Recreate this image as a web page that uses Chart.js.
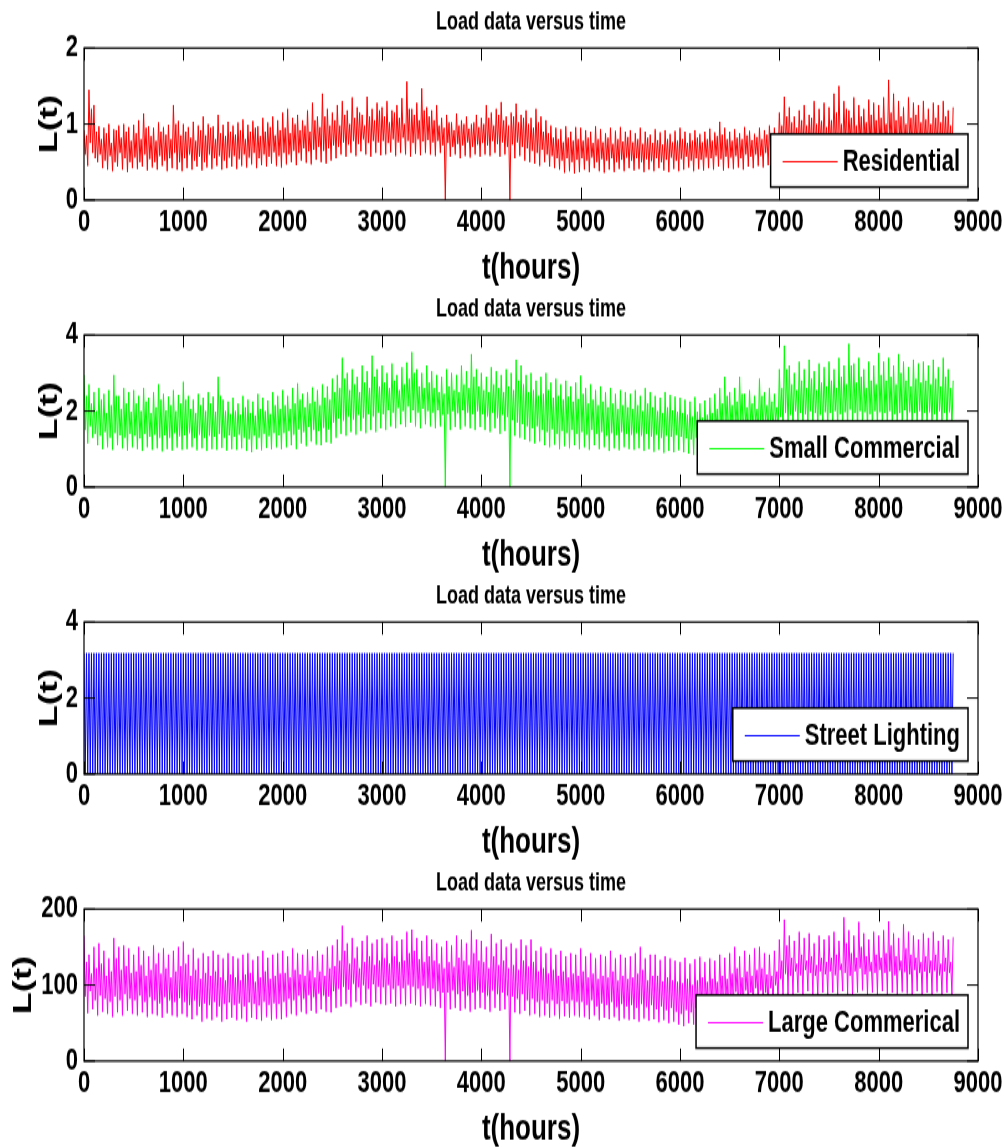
<!DOCTYPE html>
<html>
<head>
<meta charset="utf-8">
<title>Load data versus time</title>
<script src="https://cdn.jsdelivr.net/npm/chart.js@4.4.1/dist/chart.umd.min.js"></script>
<style>
  html, body { margin: 0; padding: 0; background: #fff; }
</style>
</head>
<body>
<!-- each plot is drawn at 1006x205 and stretched to 287px tall -->
<canvas id="residential" width="1006" height="205" style="display:block;width:1006px;height:287px"></canvas>
<canvas id="smallCommercial" width="1006" height="205" style="display:block;width:1006px;height:287px"></canvas>
<canvas id="streetLighting" width="1006" height="205" style="display:block;width:1006px;height:287px"></canvas>
<canvas id="largeCommercial" width="1006" height="205" style="display:block;width:1006px;height:287px"></canvas>
<script>
// hourly load summarised per 50 h window:
// main peak, short dip, second peak, deep trough
const SAMPLE_HOURS = 50;
const xTicks = [0, 1000, 2000, 3000, 4000, 5000, 6000, 7000, 8000, 9000];

const residentialPeaks = [
  0.92, 1.45, 1.25, 0.97, 0.95, 1.00, 0.93, 0.98, 1.00, 0.96,
  0.99, 1.05, 1.14, 0.97, 0.95, 1.02, 0.96, 0.99, 1.25, 1.04,
  1.00, 0.96, 1.03, 0.98, 1.10, 1.00, 0.97, 1.12, 0.99, 1.03,
  0.98, 1.02, 1.06, 0.99, 1.04, 0.97, 1.08, 1.02, 1.10, 1.05,
  1.15, 1.20, 1.08, 1.12, 1.05, 1.18, 1.28, 1.10, 1.40, 1.20,
  1.15, 1.25, 1.30, 1.18, 1.35, 1.22, 1.12, 1.36, 1.20, 1.28,
  1.22, 1.30, 1.18, 1.25, 1.34, 1.56, 1.20, 1.28, 1.47, 1.22,
  1.18, 1.25, 1.08, 1.12, 1.02, 1.14, 1.05, 1.10, 1.00, 1.12,
  1.08, 1.25, 1.15, 1.20, 1.29, 1.10, 1.15, 1.27, 1.12, 1.18,
  1.08, 1.20, 1.10, 1.05, 0.98, 0.95, 0.93, 0.97, 0.90, 0.96,
  0.95, 0.92, 0.90, 0.97, 0.93, 0.88, 0.95, 0.91, 0.96, 0.90,
  0.92, 0.88, 0.95, 0.90, 0.86, 0.93, 0.89, 0.92, 0.87, 0.91,
  0.95, 0.90, 0.88, 0.92, 0.87, 0.90, 0.94, 0.89, 1.03, 0.95,
  0.90, 0.93, 0.88, 0.96, 0.91, 0.87, 0.95, 0.92, 0.98, 0.95,
  1.15, 1.36, 1.22, 1.10, 1.18, 1.25, 1.12, 1.30, 1.20, 1.28,
  1.22, 1.40, 1.50, 1.30, 1.18, 1.35, 1.25, 1.20, 1.32, 1.28,
  1.25, 1.35, 1.58, 1.40, 1.30, 1.22, 1.35, 1.28, 1.25, 1.30,
  1.20, 1.28, 1.25, 1.30, 1.18, 1.22
];
const residentialDips = [
  0.60, 0.75, 0.55, 0.60, 0.52, 0.58, 0.50, 0.62, 0.55, 0.50,
  0.56, 0.50, 0.60, 0.54, 0.50, 0.58, 0.52, 0.55, 0.62, 0.50,
  0.55, 0.60, 0.52, 0.57, 0.50, 0.60, 0.55, 0.58, 0.52, 0.56,
  0.58, 0.54, 0.60, 0.56, 0.62, 0.55, 0.60, 0.57, 0.63, 0.58,
  0.62, 0.60, 0.65, 0.62, 0.68, 0.64, 0.66, 0.70, 0.65, 0.68,
  0.72, 0.70, 0.76, 0.73, 0.78, 0.74, 0.80, 0.75, 0.78, 0.76,
  0.78, 0.75, 0.80, 0.76, 0.82, 0.78, 0.75, 0.80, 0.77, 0.79,
  0.76, 0.78, 0.72, 0.75, 0.70, 0.74, 0.72, 0.76, 0.70, 0.73,
  0.75, 0.72, 0.78, 0.74, 0.76, 0.70, 0.73, 0.76, 0.70, 0.68,
  0.65, 0.62, 0.66, 0.60, 0.58, 0.55, 0.52, 0.55, 0.50, 0.53,
  0.55, 0.52, 0.56, 0.50, 0.54, 0.52, 0.55, 0.50, 0.53, 0.56,
  0.52, 0.55, 0.50, 0.54, 0.51, 0.55, 0.50, 0.53, 0.56, 0.52,
  0.54, 0.57, 0.52, 0.55, 0.53, 0.56, 0.55, 0.58, 0.54, 0.57,
  0.56, 0.58, 0.55, 0.60, 0.57, 0.60, 0.58, 0.62, 0.60, 0.64,
  0.70, 0.75, 0.68, 0.74, 0.72, 0.76, 0.70, 0.74, 0.78, 0.72,
  0.75, 0.70, 0.76, 0.73, 0.78, 0.72, 0.76, 0.78, 0.72, 0.75,
  0.74, 0.78, 0.75, 0.72, 0.76, 0.74, 0.78, 0.75, 0.72, 0.76,
  0.74, 0.77, 0.72, 0.75, 0.72
];
const residentialPeaks2 = [
  0.85, 1.20, 0.90, 0.80, 0.88, 0.75, 0.92, 0.82, 0.90, 0.78,
  0.88, 0.80, 0.95, 0.84, 0.78, 0.90, 0.86, 0.80, 1.00, 0.85,
  0.90, 0.82, 0.78, 0.92, 0.85, 0.95, 0.80, 0.88, 0.84, 0.90,
  0.86, 0.92, 0.80, 0.90, 0.95, 0.84, 0.90, 0.96, 0.85, 0.92,
  0.95, 0.88, 1.00, 0.92, 0.98, 0.90, 1.05, 0.96, 1.10, 0.98,
  1.05, 0.98, 1.12, 1.00, 1.08, 1.15, 0.98, 1.10, 1.05, 1.18,
  1.10, 1.02, 1.15, 1.08, 1.00, 1.20, 1.12, 1.05, 1.18, 1.10,
  1.05, 0.98, 0.95, 1.02, 0.92, 0.98, 1.00, 0.94, 1.02, 0.96,
  1.00, 1.08, 0.98, 1.12, 1.05, 0.98, 1.10, 1.02, 1.08, 1.00,
  0.95, 1.02, 0.90, 0.88, 0.82, 0.80, 0.76, 0.82, 0.78, 0.80,
  0.78, 0.82, 0.75, 0.80, 0.76, 0.82, 0.74, 0.80, 0.77, 0.83,
  0.76, 0.80, 0.74, 0.82, 0.75, 0.79, 0.73, 0.80, 0.76, 0.78,
  0.80, 0.75, 0.78, 0.82, 0.76, 0.80, 0.78, 0.84, 0.86, 0.80,
  0.78, 0.82, 0.80, 0.85, 0.79, 0.83, 0.80, 0.86, 0.82, 0.88,
  0.98, 1.10, 1.02, 0.95, 1.05, 0.98, 1.08, 1.00, 1.04, 0.96,
  1.05, 1.15, 1.00, 1.20, 1.08, 0.98, 1.10, 1.02, 1.12, 1.05,
  1.08, 1.00, 1.15, 1.05, 1.10, 1.00, 1.08, 1.12, 1.02, 1.06,
  1.00, 1.08, 1.02, 1.10, 0.98
];
const residentialTroughs = [
  0.45, 0.62, 0.50, 0.42, 0.40, 0.38, 0.44, 0.40, 0.37, 0.42,
  0.41, 0.44, 0.39, 0.43, 0.40, 0.45, 0.38, 0.42, 0.40, 0.38,
  0.42, 0.40, 0.44, 0.39, 0.43, 0.41, 0.45, 0.40, 0.42, 0.44,
  0.41, 0.45, 0.43, 0.47, 0.42, 0.46, 0.44, 0.48, 0.45, 0.43,
  0.47, 0.50, 0.46, 0.52, 0.49, 0.47, 0.53, 0.50, 0.48, 0.52,
  0.55, 0.60, 0.57, 0.62, 0.58, 0.64, 0.60, 0.57, 0.62, 0.59,
  0.60, 0.63, 0.58, 0.62, 0.60, 0.57, 0.61, 0.59, 0.62, 0.60,
  0.58, 0.62, 0.00, 0.57, 0.60, 0.55, 0.58, 0.56, 0.60, 0.57,
  0.60, 0.58, 0.62, 0.57, 0.60, 0.00, 0.55, 0.58, 0.52, 0.50,
  0.48, 0.45, 0.50, 0.44, 0.42, 0.40, 0.36, 0.38, 0.35, 0.37,
  0.40, 0.37, 0.42, 0.38, 0.36, 0.40, 0.37, 0.41, 0.38, 0.42,
  0.39, 0.41, 0.37, 0.40, 0.38, 0.42, 0.39, 0.37, 0.41, 0.38,
  0.40, 0.43, 0.38, 0.41, 0.39, 0.42, 0.40, 0.44, 0.39, 0.42,
  0.41, 0.43, 0.40, 0.44, 0.42, 0.45, 0.43, 0.46, 0.44, 0.48,
  0.52, 0.55, 0.50, 0.56, 0.53, 0.55, 0.51, 0.54, 0.57, 0.53,
  0.55, 0.52, 0.56, 0.54, 0.58, 0.53, 0.55, 0.57, 0.52, 0.56,
  0.54, 0.57, 0.55, 0.52, 0.56, 0.54, 0.58, 0.55, 0.53, 0.56,
  0.54, 0.57, 0.53, 0.55, 0.52
];

const smallCommercialPeaks = [
  2.95, 2.70, 2.50, 2.60, 2.45, 2.55, 2.95, 2.40, 2.60, 2.50,
  2.55, 2.40, 2.60, 2.35, 2.50, 2.70, 2.45, 2.38, 2.55, 2.42,
  2.77, 2.40, 2.30, 2.45, 2.35, 2.50, 2.38, 2.90, 2.30, 2.25,
  2.35, 2.20, 2.40, 2.30, 2.25, 2.45, 2.35, 2.28, 2.50, 2.40,
  2.55, 2.40, 2.60, 2.73, 2.45, 2.50, 2.62, 2.55, 2.70, 2.65,
  2.85, 2.95, 3.40, 3.00, 3.10, 2.90, 3.20, 3.05, 3.46, 3.10,
  3.20, 3.00, 3.25, 2.95, 3.15, 3.28, 3.55, 3.10, 3.00, 3.20,
  3.05, 2.95, 2.90, 3.10, 3.00, 2.95, 3.20, 3.05, 3.50, 3.10,
  3.00, 2.90, 3.15, 3.05, 2.95, 3.10, 3.00, 3.35, 3.20, 2.95,
  3.00, 2.80, 2.90, 3.00, 2.75, 2.85, 2.70, 2.80, 2.65, 2.75,
  2.93, 2.60, 2.70, 2.55, 2.65, 2.50, 2.60, 2.45, 2.55, 2.50,
  2.45, 2.55, 2.40, 2.60, 2.50, 2.40, 2.35, 2.50, 2.42, 2.38,
  2.35, 2.30, 2.25, 2.37, 2.20, 2.28, 2.35, 2.45, 2.60, 2.90,
  2.50, 2.60, 2.90, 2.45, 2.55, 2.40, 2.85, 2.50, 2.60, 2.45,
  3.10, 3.72, 3.20, 3.00, 3.30, 3.10, 3.35, 3.05, 3.25, 3.15,
  3.30, 3.10, 3.40, 3.20, 3.77, 3.25, 3.40, 3.10, 3.30, 3.20,
  3.52, 3.30, 3.40, 3.20, 3.50, 3.30, 3.15, 3.35, 3.25, 3.30,
  3.20, 3.35, 3.15, 3.40, 3.10, 2.80
];
const smallCommercialDips = [
  1.50, 1.60, 1.40, 1.35, 1.45, 1.30, 1.42, 1.36, 1.30, 1.40,
  1.35, 1.28, 1.40, 1.32, 1.38, 1.30, 1.36, 1.30, 1.42, 1.34,
  1.36, 1.42, 1.30, 1.38, 1.30, 1.35, 1.32, 1.40, 1.30, 1.36,
  1.32, 1.38, 1.30, 1.26, 1.35, 1.30, 1.40, 1.34, 1.42, 1.36,
  1.42, 1.48, 1.38, 1.52, 1.45, 1.58, 1.50, 1.48, 1.56, 1.52,
  1.70, 1.80, 1.75, 1.86, 1.78, 1.90, 1.82, 1.92, 1.86, 1.96,
  1.92, 2.02, 1.96, 2.08, 2.00, 2.12, 2.02, 1.96, 2.06, 2.00,
  1.96, 2.02, 1.90, 1.92, 2.00, 1.94, 2.02, 1.96, 1.92, 2.00,
  1.92, 1.86, 1.96, 1.82, 1.90, 1.85, 1.76, 1.70, 1.66, 1.60,
  1.55, 1.60, 1.50, 1.45, 1.52, 1.40, 1.48, 1.42, 1.50, 1.40,
  1.45, 1.38, 1.50, 1.40, 1.45, 1.35, 1.42, 1.37, 1.45, 1.40,
  1.38, 1.42, 1.35, 1.40, 1.33, 1.38, 1.30, 1.35, 1.32, 1.37,
  1.32, 1.28, 1.25, 1.30, 1.35, 1.40, 1.45, 1.50, 1.55, 1.60,
  1.60, 1.65, 1.70, 1.62, 1.68, 1.70, 1.65, 1.72, 1.70, 1.75,
  1.85, 1.95, 1.90, 2.00, 1.95, 1.92, 2.00, 1.95, 1.90, 1.97,
  1.95, 2.00, 1.92, 1.97, 2.04, 1.95, 2.00, 1.97, 1.92, 2.00,
  1.97, 1.95, 2.00, 1.92, 1.95, 2.02, 1.97, 1.95, 2.00, 1.95,
  1.97, 1.92, 2.00, 1.95, 1.97
];
const smallCommercialPeaks2 = [
  2.40, 2.20, 2.00, 2.30, 1.95, 2.15, 2.40, 2.05, 2.20, 1.98,
  2.20, 2.00, 2.25, 1.95, 2.10, 2.30, 2.02, 2.15, 2.00, 2.20,
  2.30, 2.05, 1.95, 2.15, 2.00, 2.20, 1.98, 2.40, 2.00, 1.92,
  2.00, 1.90, 2.10, 1.95, 1.88, 2.05, 2.00, 1.92, 2.15, 2.05,
  2.15, 2.05, 2.20, 2.30, 2.10, 2.20, 2.25, 2.15, 2.35, 2.30,
  2.50, 2.60, 2.85, 2.55, 2.70, 2.50, 2.75, 2.60, 2.90, 2.65,
  2.75, 2.60, 2.80, 2.55, 2.70, 2.85, 3.00, 2.65, 2.60, 2.75,
  2.60, 2.50, 2.45, 2.65, 2.55, 2.50, 2.70, 2.60, 2.90, 2.65,
  2.55, 2.50, 2.70, 2.60, 2.50, 2.65, 2.55, 2.80, 2.70, 2.50,
  2.55, 2.40, 2.45, 2.55, 2.35, 2.40, 2.30, 2.38, 2.25, 2.32,
  2.45, 2.20, 2.30, 2.15, 2.25, 2.10, 2.20, 2.05, 2.15, 2.10,
  2.05, 2.15, 2.00, 2.20, 2.10, 2.00, 1.95, 2.10, 2.02, 1.98,
  1.95, 1.90, 1.85, 1.98, 1.82, 1.90, 1.95, 2.05, 2.20, 2.40,
  2.15, 2.25, 2.45, 2.10, 2.20, 2.05, 2.40, 2.15, 2.25, 2.10,
  2.60, 3.10, 2.70, 2.55, 2.80, 2.60, 2.85, 2.55, 2.75, 2.65,
  2.80, 2.60, 2.90, 2.70, 3.20, 2.75, 2.90, 2.60, 2.80, 2.70,
  2.95, 2.80, 2.90, 2.70, 3.00, 2.80, 2.65, 2.85, 2.75, 2.80,
  2.70, 2.85, 2.65, 2.90, 2.60
];
const smallCommercialTroughs = [
  1.15, 1.30, 1.10, 1.00, 1.05, 0.98, 1.10, 1.02, 0.96, 1.05,
  1.00, 0.95, 1.05, 0.98, 1.02, 0.94, 1.00, 0.96, 1.04, 0.98,
  1.00, 1.05, 0.97, 1.02, 0.95, 1.00, 0.98, 1.03, 0.96, 1.00,
  0.98, 1.02, 0.95, 0.92, 1.00, 0.97, 1.03, 0.99, 1.05, 1.00,
  1.05, 1.10, 1.00, 1.15, 1.08, 1.20, 1.12, 1.10, 1.18, 1.15,
  1.30, 1.40, 1.35, 1.45, 1.38, 1.48, 1.42, 1.50, 1.45, 1.55,
  1.50, 1.60, 1.55, 1.65, 1.58, 1.70, 1.60, 1.55, 1.65, 1.60,
  1.55, 1.60, 0.00, 1.50, 1.58, 1.52, 1.60, 1.55, 1.50, 1.58,
  1.50, 1.45, 1.55, 1.40, 1.48, 0.00, 1.35, 1.30, 1.25, 1.20,
  1.15, 1.20, 1.10, 1.05, 1.12, 1.00, 1.08, 1.02, 1.10, 1.00,
  1.05, 0.98, 1.10, 1.00, 1.05, 0.95, 1.02, 0.97, 1.05, 1.00,
  0.98, 1.02, 0.95, 1.00, 0.93, 0.98, 0.90, 0.95, 0.92, 0.97,
  0.92, 0.88, 0.85, 0.90, 0.95, 1.00, 1.05, 1.10, 1.15, 1.20,
  1.20, 1.25, 1.30, 1.22, 1.28, 1.30, 1.25, 1.32, 1.30, 1.35,
  1.40, 1.50, 1.45, 1.55, 1.50, 1.48, 1.55, 1.50, 1.45, 1.52,
  1.50, 1.55, 1.48, 1.52, 1.58, 1.50, 1.55, 1.52, 1.48, 1.55,
  1.52, 1.50, 1.55, 1.48, 1.50, 1.56, 1.52, 1.50, 1.55, 1.50,
  1.52, 1.48, 1.55, 1.50, 1.52
];

// street lights: full rating while on, zero while off
const streetLightingPeaks = [
  3.18, 3.18, 3.18, 3.18, 3.18, 3.18, 3.18, 3.18, 3.18, 3.18, 3.18, 3.18, 3.18, 3.18, 3.18, 3.18, 3.18, 3.18, 3.18, 3.18, 3.18, 3.18,
  3.18, 3.18, 3.18, 3.18, 3.18, 3.18, 3.18, 3.18, 3.18, 3.18, 3.18, 3.18, 3.18, 3.18, 3.18, 3.18, 3.18, 3.18, 3.18, 3.18, 3.18, 3.18,
  3.18, 3.18, 3.18, 3.18, 3.18, 3.18, 3.18, 3.18, 3.18, 3.18, 3.18, 3.18, 3.18, 3.18, 3.18, 3.18, 3.18, 3.18, 3.18, 3.18, 3.18, 3.18,
  3.18, 3.18, 3.18, 3.18, 3.18, 3.18, 3.18, 3.18, 3.18, 3.18, 3.18, 3.18, 3.18, 3.18, 3.18, 3.18, 3.18, 3.18, 3.18, 3.18, 3.18, 3.18,
  3.18, 3.18, 3.18, 3.18, 3.18, 3.18, 3.18, 3.18, 3.18, 3.18, 3.18, 3.18, 3.18, 3.18, 3.18, 3.18, 3.18, 3.18, 3.18, 3.18, 3.18, 3.18,
  3.18, 3.18, 3.18, 3.18, 3.18, 3.18, 3.18, 3.18, 3.18, 3.18, 3.18, 3.18, 3.18, 3.18, 3.18, 3.18, 3.18, 3.18, 3.18, 3.18, 3.18, 3.18,
  3.18, 3.18, 3.18, 3.18, 3.18, 3.18, 3.18, 3.18, 3.18, 3.18, 3.18, 3.18, 3.18, 3.18, 3.18, 3.18, 3.18, 3.18, 3.18, 3.18, 3.18, 3.18,
  3.18, 3.18, 3.18, 3.18, 3.18, 3.18, 3.18, 3.18, 3.18, 3.18, 3.18, 3.18, 3.18, 3.18, 3.18, 3.18, 3.18, 3.18, 3.18, 3.18, 3.18, 3.18
];
const streetLightingDips = [
  0, 0, 0, 0, 0, 0, 0, 0, 0, 0, 0, 0, 0, 0, 0, 0, 0, 0, 0, 0, 0, 0, 0, 0, 0,
  0, 0, 0, 0, 0, 0, 0, 0, 0, 0, 0, 0, 0, 0, 0, 0, 0, 0, 0, 0, 0, 0, 0, 0, 0,
  0, 0, 0, 0, 0, 0, 0, 0, 0, 0, 0, 0, 0, 0, 0, 0, 0, 0, 0, 0, 0, 0, 0, 0, 0,
  0, 0, 0, 0, 0, 0, 0, 0, 0, 0, 0, 0, 0, 0, 0, 0, 0, 0, 0, 0, 0, 0, 0, 0, 0,
  0, 0, 0, 0, 0, 0, 0, 0, 0, 0, 0, 0, 0, 0, 0, 0, 0, 0, 0, 0, 0, 0, 0, 0, 0,
  0, 0, 0, 0, 0, 0, 0, 0, 0, 0, 0, 0, 0, 0, 0, 0, 0, 0, 0, 0, 0, 0, 0, 0, 0,
  0, 0, 0, 0, 0, 0, 0, 0, 0, 0, 0, 0, 0, 0, 0, 0, 0, 0, 0, 0, 0, 0, 0, 0, 0
];
const streetLightingPeaks2 = [
  3.18, 3.18, 3.18, 3.18, 3.18, 3.18, 3.18, 3.18, 3.18, 3.18, 3.18, 3.18, 3.18, 3.18, 3.18, 3.18, 3.18, 3.18, 3.18, 3.18, 3.18, 3.18, 3.18, 3.18, 3.18,
  3.18, 3.18, 3.18, 3.18, 3.18, 3.18, 3.18, 3.18, 3.18, 3.18, 3.18, 3.18, 3.18, 3.18, 3.18, 3.18, 3.18, 3.18, 3.18, 3.18, 3.18, 3.18, 3.18, 3.18, 3.18,
  3.18, 3.18, 3.18, 3.18, 3.18, 3.18, 3.18, 3.18, 3.18, 3.18, 3.18, 3.18, 3.18, 3.18, 3.18, 3.18, 3.18, 3.18, 3.18, 3.18, 3.18, 3.18, 3.18, 3.18, 3.18,
  3.18, 3.18, 3.18, 3.18, 3.18, 3.18, 3.18, 3.18, 3.18, 3.18, 3.18, 3.18, 3.18, 3.18, 3.18, 3.18, 3.18, 3.18, 3.18, 3.18, 3.18, 3.18, 3.18, 3.18, 3.18,
  3.18, 3.18, 3.18, 3.18, 3.18, 3.18, 3.18, 3.18, 3.18, 3.18, 3.18, 3.18, 3.18, 3.18, 3.18, 3.18, 3.18, 3.18, 3.18, 3.18, 3.18, 3.18, 3.18, 3.18, 3.18,
  3.18, 3.18, 3.18, 3.18, 3.18, 3.18, 3.18, 3.18, 3.18, 3.18, 3.18, 3.18, 3.18, 3.18, 3.18, 3.18, 3.18, 3.18, 3.18, 3.18, 3.18, 3.18, 3.18, 3.18, 3.18,
  3.18, 3.18, 3.18, 3.18, 3.18, 3.18, 3.18, 3.18, 3.18, 3.18, 3.18, 3.18, 3.18, 3.18, 3.18, 3.18, 3.18, 3.18, 3.18, 3.18, 3.18, 3.18, 3.18, 3.18, 3.18
];
const streetLightingTroughs = [
  0, 0, 0, 0, 0, 0, 0, 0, 0, 0, 0, 0, 0, 0, 0, 0, 0, 0, 0, 0, 0, 0, 0, 0, 0,
  0, 0, 0, 0, 0, 0, 0, 0, 0, 0, 0, 0, 0, 0, 0, 0, 0, 0, 0, 0, 0, 0, 0, 0, 0,
  0, 0, 0, 0, 0, 0, 0, 0, 0, 0, 0, 0, 0, 0, 0, 0, 0, 0, 0, 0, 0, 0, 0, 0, 0,
  0, 0, 0, 0, 0, 0, 0, 0, 0, 0, 0, 0, 0, 0, 0, 0, 0, 0, 0, 0, 0, 0, 0, 0, 0,
  0, 0, 0, 0, 0, 0, 0, 0, 0, 0, 0, 0, 0, 0, 0, 0, 0, 0, 0, 0, 0, 0, 0, 0, 0,
  0, 0, 0, 0, 0, 0, 0, 0, 0, 0, 0, 0, 0, 0, 0, 0, 0, 0, 0, 0, 0, 0, 0, 0, 0,
  0, 0, 0, 0, 0, 0, 0, 0, 0, 0, 0, 0, 0, 0, 0, 0, 0, 0, 0, 0, 0, 0, 0, 0, 0
];

const largeCommercialPeaks = [
  165, 140, 150, 155, 145, 135, 162, 150, 152, 148,
  140, 150, 145, 138, 152, 142, 148, 140, 145, 150,
  157, 140, 148, 135, 142, 138, 145, 140, 135, 142,
  138, 135, 140, 142, 133, 138, 145, 136, 140, 142,
  145, 138, 148, 142, 140, 147, 138, 145, 140, 150,
  152, 160, 178, 155, 162, 150, 158, 165, 155, 160,
  162, 155, 165, 158, 160, 170, 173, 162, 158, 165,
  160, 155, 150, 158, 152, 165, 160, 155, 172, 160,
  158, 150, 167, 155, 160, 150, 155, 148, 160, 152,
  160, 145, 150, 142, 148, 140, 145, 138, 142, 140,
  148, 138, 142, 135, 140, 138, 145, 135, 140, 136,
  138, 142, 150, 135, 140, 140, 133, 138, 135, 132,
  130, 136, 128, 134, 137, 130, 135, 132, 140, 136,
  142, 150, 138, 145, 140, 148, 150, 142, 140, 145,
  160, 186, 165, 158, 170, 162, 168, 155, 165, 160,
  165, 170, 158, 189, 172, 165, 183, 168, 160, 170,
  165, 172, 184, 168, 162, 180, 170, 165, 160, 168,
  162, 170, 158, 165, 160, 163
];
const largeCommercialDips = [
  85, 92, 80, 86, 82, 78, 85, 80, 88, 82,
  80, 86, 78, 84, 80, 76, 84, 80, 78, 83,
  78, 74, 80, 72, 76, 74, 78, 72, 75, 77,
  74, 76, 72, 77, 75, 73, 78, 74, 76, 75,
  78, 82, 80, 86, 82, 87, 84, 89, 86, 85,
  92, 95, 98, 94, 102, 97, 100, 95, 101, 98,
  97, 100, 95, 99, 96, 100, 98, 95, 99, 96,
  95, 92, 90, 90, 93, 88, 92, 86, 90, 93,
  90, 86, 93, 88, 90, 86, 85, 82, 88, 80,
  82, 78, 80, 76, 80, 75, 79, 76, 80, 78,
  78, 74, 80, 72, 76, 74, 78, 71, 75, 72,
  74, 70, 75, 71, 74, 68, 72, 67, 70, 65,
  62, 67, 64, 70, 74, 78, 80, 83, 87, 86,
  88, 91, 87, 93, 90, 96, 93, 90, 96, 100,
  108, 115, 112, 118, 113, 120, 116, 112, 118, 114,
  118, 113, 120, 116, 112, 118, 122, 114, 118, 116,
  120, 116, 118, 113, 119, 117, 114, 120, 116, 118,
  116, 119, 113, 118, 116
];
const largeCommercialPeaks2 = [
  130, 115, 122, 128, 112, 118, 135, 120, 125, 116,
  118, 126, 112, 120, 128, 115, 122, 110, 118, 125,
  128, 112, 120, 108, 116, 112, 118, 110, 106, 114,
  110, 106, 114, 116, 104, 110, 118, 108, 112, 115,
  116, 110, 120, 114, 112, 119, 110, 118, 112, 122,
  125, 132, 145, 128, 135, 122, 130, 138, 126, 132,
  135, 128, 138, 130, 132, 142, 145, 134, 130, 138,
  132, 128, 122, 130, 124, 136, 132, 126, 142, 132,
  130, 122, 138, 126, 132, 122, 126, 120, 132, 124,
  130, 118, 122, 115, 120, 112, 118, 110, 115, 112,
  118, 110, 115, 108, 112, 110, 118, 106, 112, 108,
  110, 115, 120, 106, 112, 112, 105, 110, 106, 104,
  102, 108, 100, 106, 110, 104, 108, 104, 112, 108,
  115, 122, 110, 118, 112, 120, 122, 114, 112, 118,
  132, 152, 136, 128, 140, 132, 138, 126, 136, 130,
  136, 140, 128, 155, 142, 136, 150, 138, 130, 140,
  136, 142, 152, 138, 132, 148, 140, 136, 130, 138,
  132, 140, 128, 136, 130
];
const largeCommercialTroughs = [
  63, 68, 60, 65, 62, 58, 64, 60, 66, 62,
  60, 64, 58, 62, 60, 57, 63, 60, 58, 62,
  58, 55, 60, 52, 56, 54, 58, 52, 55, 57,
  54, 56, 52, 57, 55, 53, 58, 54, 56, 55,
  58, 62, 60, 65, 62, 66, 63, 68, 65, 64,
  70, 72, 75, 71, 78, 74, 76, 72, 77, 75,
  74, 76, 72, 75, 73, 76, 74, 72, 75, 73,
  72, 70, 0, 68, 70, 66, 69, 65, 68, 70,
  68, 65, 70, 66, 68, 0, 64, 62, 66, 60,
  62, 58, 60, 57, 60, 56, 59, 57, 60, 58,
  58, 55, 60, 54, 57, 55, 58, 53, 56, 54,
  55, 52, 56, 53, 55, 51, 54, 50, 52, 48,
  46, 50, 48, 52, 55, 58, 60, 62, 65, 64,
  66, 68, 65, 70, 68, 72, 70, 68, 72, 75,
  82, 88, 85, 90, 86, 92, 88, 85, 90, 87,
  90, 86, 92, 88, 85, 90, 93, 87, 90, 88,
  92, 88, 90, 86, 91, 89, 87, 92, 88, 90,
  88, 91, 86, 90, 88
];

Chart.defaults.font.family = '"Liberation Sans", Arial, sans-serif';
Chart.defaults.color = '#000';

// four readings per window, a quarter window apart
function toPoints(peaks, dips, peaks2, troughs) {
  const q = SAMPLE_HOURS / 4;
  const pts = [];
  peaks.forEach((p, i) => {
    const t = i * SAMPLE_HOURS;
    pts.push({x: t, y: p});
    if (i < dips.length) pts.push({x: t + q, y: dips[i]});
    if (i < peaks2.length) pts.push({x: t + 2 * q, y: peaks2[i]});
    if (i < troughs.length) pts.push({x: t + 3 * q, y: troughs[i]});
  });
  return pts;
}

// closed box with inward ticks on all four sides
const axesBox = {
  id: 'axesBox',
  afterDatasetsDraw(chart) {
    const {ctx, chartArea: a, scales: {x, y}} = chart;
    ctx.save();
    ctx.strokeStyle = '#000';
    ctx.lineWidth = 1;
    ctx.beginPath();
    x.ticks.forEach(t => {
      const px = Math.round(x.getPixelForValue(t.value)) + 0.5;
      ctx.moveTo(px, a.bottom); ctx.lineTo(px, a.bottom - 9);
      ctx.moveTo(px, a.top); ctx.lineTo(px, a.top + 9);
    });
    y.ticks.forEach(t => {
      const py = y.getPixelForValue(t.value);
      ctx.moveTo(a.left, py); ctx.lineTo(a.left + 11, py);
      ctx.moveTo(a.right, py); ctx.lineTo(a.right - 11, py);
    });
    ctx.stroke();
    ctx.lineWidth = 1.2;
    ctx.strokeRect(a.left, a.top, a.right - a.left, a.bottom - a.top);
    ctx.restore();
  }
};

// framed legend anchored at its right edge inside the axes
const boxedLegend = {
  id: 'boxedLegend',
  afterDraw(chart, args, opts) {
    const {ctx} = chart;
    const ds = chart.data.datasets[0];
    ctx.save();
    ctx.font = 'bold 22px "Liberation Sans", Arial, sans-serif';
    const textW = ctx.measureText(ds.label).width;
    const left = opts.right - 8 - textW - 72;
    const midY = opts.top + opts.height / 2;
    ctx.fillStyle = '#fff';
    ctx.fillRect(left, opts.top, opts.right - left, opts.height);
    ctx.strokeStyle = '#000';
    ctx.lineWidth = 1.5;
    ctx.strokeRect(left, opts.top, opts.right - left, opts.height);
    ctx.strokeStyle = ds.borderColor;
    ctx.lineWidth = 1;
    ctx.beginPath();
    ctx.moveTo(left + 12, Math.round(midY) + 0.5);
    ctx.lineTo(left + 67, Math.round(midY) + 0.5);
    ctx.stroke();
    ctx.fillStyle = '#000';
    ctx.textBaseline = 'middle';
    ctx.fillText(ds.label, left + 72, midY + 1);
    ctx.restore();
  }
};

function drawLoadChart(id, label, color, series, yMax, yStep, yTitleGap) {
  new Chart(document.getElementById(id), {
    type: 'line',
    data: {
      datasets: [{
        label: label,
        data: toPoints(...series),
        borderColor: color,
        borderWidth: 1,
        pointRadius: 0,
        tension: 0,
        fill: false
      }]
    },
    options: {
      responsive: false,
      animation: false,
      events: [],
      layout: {padding: {top: 0, right: 28, bottom: 0, left: 0}},
      plugins: {
        legend: {display: false},
        tooltip: {enabled: false},
        title: {
          display: true,
          fullSize: false,
          text: 'Load data versus time',
          color: '#000',
          font: {size: 18, weight: 'bold'},
          padding: {top: 5.6, bottom: 7.1}
        },
        boxedLegend: {right: 968, top: 95.7, height: 37.9}
      },
      scales: {
        x: {
          type: 'linear',
          min: 0,
          max: 9000,
          afterBuildTicks: axis => { axis.ticks = xTicks.map(v => ({value: v})); },
          grid: {display: false, drawTicks: false},
          border: {display: false},
          ticks: {
            padding: 3.2,
            maxRotation: 0,
            autoSkip: false,
            color: '#000',
            font: {size: 22, weight: 'bold'},
            callback: v => String(v)
          },
          title: {
            display: true,
            text: 't(hours)',
            color: '#000',
            font: {size: 26, weight: 'bold', lineHeight: 1},
            padding: {top: 0, bottom: 0.6}
          },
          afterFit: axis => { axis.height = 62.1; }
        },
        y: {
          min: 0,
          max: yMax,
          grid: {display: false, drawTicks: false},
          border: {display: false},
          ticks: {
            stepSize: yStep,
            padding: 6,
            color: '#000',
            font: {size: 22, weight: 'bold'},
            callback: v => String(v)
          },
          title: {
            display: true,
            text: 'L(t)',
            color: '#000',
            font: {size: 26, weight: 'bold', lineHeight: 1.2},
            padding: {top: yTitleGap, bottom: 0}
          },
          afterFit: axis => { axis.width = 84; }
        }
      }
    },
    plugins: [axesBox, boxedLegend]
  });
}

drawLoadChart('residential', 'Residential', '#ff0000',
  [residentialPeaks, residentialDips, residentialPeaks2, residentialTroughs], 2, 1, 34.4);
drawLoadChart('smallCommercial', 'Small Commercial', '#00ff00',
  [smallCommercialPeaks, smallCommercialDips, smallCommercialPeaks2, smallCommercialTroughs], 4, 2, 34.4);
drawLoadChart('streetLighting', 'Street Lighting', '#0000ff',
  [streetLightingPeaks, streetLightingDips, streetLightingPeaks2, streetLightingTroughs], 4, 2, 34.4);
drawLoadChart('largeCommercial', 'Large Commerical', '#ff00ff',
  [largeCommercialPeaks, largeCommercialDips, largeCommercialPeaks2, largeCommercialTroughs], 200, 100, 8.4);
</script>
</body>
</html>
